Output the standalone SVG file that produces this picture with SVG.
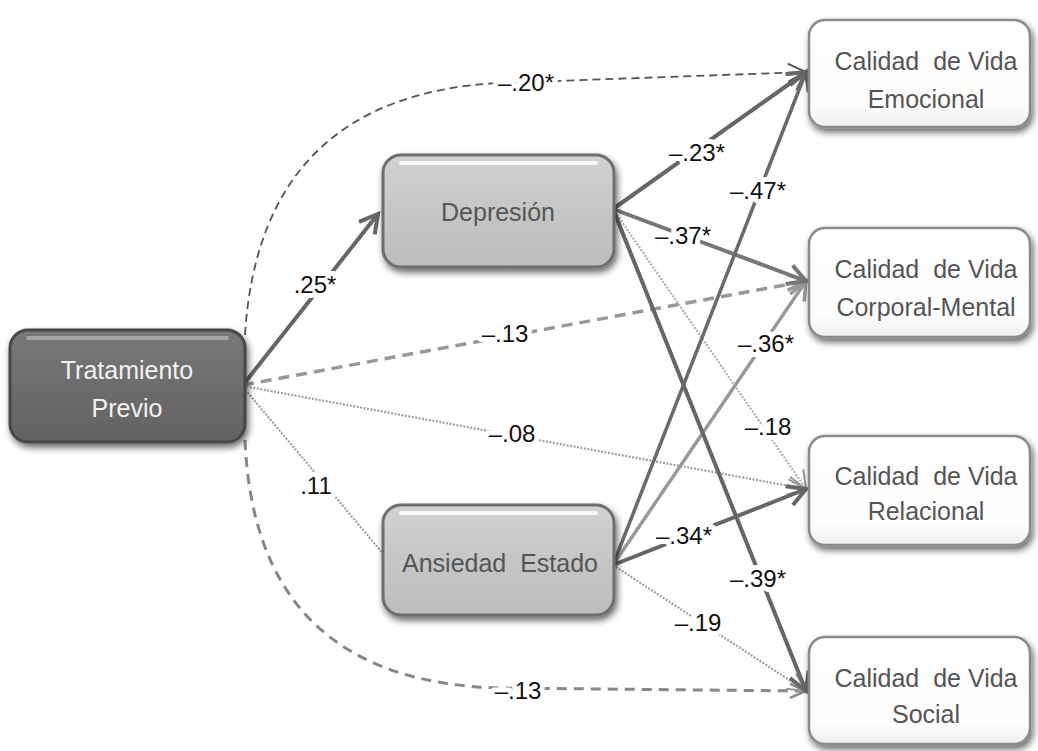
<svg xmlns="http://www.w3.org/2000/svg" width="1038" height="751" viewBox="0 0 1038 751">
<style>
.lbl{font-family:"Liberation Sans",Arial,sans-serif;font-size:24px;fill:#111;text-anchor:middle;paint-order:stroke;stroke:#fff;stroke-width:10px;stroke-linejoin:round}
.nt{font-family:"Liberation Sans",Arial,sans-serif;font-size:25px;text-anchor:middle;fill:#555}
.c{fill:none;stroke-linecap:butt}
</style>
<defs>
<filter id="sh" x="-20%" y="-20%" width="140%" height="150%">
<feGaussianBlur in="SourceAlpha" stdDeviation="3.5"/>
<feOffset dx="2" dy="4" result="b"/>
<feComponentTransfer><feFuncA type="linear" slope="0.6"/></feComponentTransfer>
<feMerge><feMergeNode/><feMergeNode in="SourceGraphic"/></feMerge>
</filter>
<linearGradient id="gDark" x1="0" y1="0" x2="0" y2="1">
<stop offset="0" stop-color="#787878"/><stop offset="0.5" stop-color="#6d6d6d"/><stop offset="1" stop-color="#626262"/>
</linearGradient>
<linearGradient id="gMid" x1="0" y1="0" x2="0" y2="1">
<stop offset="0" stop-color="#d2d2d2"/><stop offset="0.5" stop-color="#c6c6c6"/><stop offset="1" stop-color="#bdbdbd"/>
</linearGradient>
<linearGradient id="gWhite" x1="0" y1="0" x2="0" y2="1">
<stop offset="0" stop-color="#ffffff"/><stop offset="0.8" stop-color="#fdfdfd"/><stop offset="1" stop-color="#efefef"/>
</linearGradient>
<marker id="mDark" markerUnits="userSpaceOnUse" viewBox="-24 -14 28 28" markerWidth="28" markerHeight="28" refX="0" refY="0" orient="auto">
<path d="M-18,-10 L0,0 L-18,10" fill="none" stroke="#666" stroke-width="4"/>
</marker>
<marker id="mMid" markerUnits="userSpaceOnUse" viewBox="-24 -14 28 28" markerWidth="28" markerHeight="28" refX="0" refY="0" orient="auto">
<path d="M-18,-10 L0,0 L-18,10" fill="none" stroke="#777" stroke-width="4"/>
</marker>
<marker id="mGray" markerUnits="userSpaceOnUse" viewBox="-24 -14 28 28" markerWidth="28" markerHeight="28" refX="0" refY="0" orient="auto">
<path d="M-18,-10 L0,0 L-18,10" fill="none" stroke="#999" stroke-width="3.5"/>
</marker>
<marker id="mLight" markerUnits="userSpaceOnUse" viewBox="-24 -14 28 28" markerWidth="28" markerHeight="28" refX="0" refY="0" orient="auto">
<path d="M-18,-9 L0,0 L-18,9" fill="none" stroke="#999" stroke-width="2"/>
</marker>
<marker id="mDash" markerUnits="userSpaceOnUse" viewBox="-24 -14 28 28" markerWidth="28" markerHeight="28" refX="0" refY="0" orient="auto">
<path d="M-18,-9 L0,0 L-18,9" fill="none" stroke="#555" stroke-width="2"/>
</marker>
<marker id="mDash2" markerUnits="userSpaceOnUse" viewBox="-24 -14 28 28" markerWidth="28" markerHeight="28" refX="0" refY="0" orient="auto">
<path d="M-16,-7 L0,0 L-16,7" fill="none" stroke="#888" stroke-width="2.5"/>
</marker>
</defs>
<rect width="1038" height="751" fill="#fff"/>

<g id="connectors">
<path class="c" d="M245,335 Q260,95 500,83 L806,72" stroke="#555" stroke-width="1.8" stroke-dasharray="8,5" marker-end="url(#mDash)"/>
<path class="c" d="M245,440 Q255,682 500,688 L806,691" stroke="#888" stroke-width="3" stroke-dasharray="10,7" marker-end="url(#mDash2)"/>
<path class="c" d="M243,385 L806,281" stroke="#999" stroke-width="3.5" stroke-dasharray="11,7" marker-end="url(#mGray)"/>
<path class="c" d="M243,386 L806,489" stroke="#a0a0a0" stroke-width="2.2" stroke-dasharray="2,1.5" marker-end="url(#mLight)"/>
<path class="c" d="M243,387 L385,556" stroke="#a0a0a0" stroke-width="2.2" stroke-dasharray="2,1.5"/>
<path class="c" d="M243,385 L378,214" stroke="#666" stroke-width="4" marker-end="url(#mDark)"/>
<path class="c" d="M613,209 L806,489" stroke="#b0b0b0" stroke-width="2.2" stroke-dasharray="2,1.5" marker-end="url(#mLight)"/>
<path class="c" d="M613,565 L806,691" stroke="#a0a0a0" stroke-width="2.2" stroke-dasharray="2,1.5" marker-end="url(#mLight)"/>
<path class="c" d="M613,565 L806,281" stroke="#999" stroke-width="3.5" marker-end="url(#mGray)"/>
<path class="c" d="M613,209 L806,72" stroke="#666" stroke-width="4" marker-end="url(#mDark)"/>
<path class="c" d="M613,209 L806,281" stroke="#777" stroke-width="4" marker-end="url(#mMid)"/>
<path class="c" d="M613,209 L806,691" stroke="#666" stroke-width="4" marker-end="url(#mDark)"/>
<path class="c" d="M613,565 L806,72" stroke="#6a6a6a" stroke-width="3.5" marker-end="url(#mDark)"/>
<path class="c" d="M613,565 L806,489" stroke="#666" stroke-width="4" marker-end="url(#mDark)"/>
</g>

<g id="labels">
<text class="lbl" x="526" y="91">–.20*</text>
<text class="lbl" x="315" y="293">.25*</text>
<text class="lbl" x="505" y="342">–.13</text>
<text class="lbl" x="512" y="442">–.08</text>
<text class="lbl" x="316" y="494">.11</text>
<text class="lbl" x="518" y="699">–.13</text>
<text class="lbl" x="697" y="161">–.23*</text>
<text class="lbl" x="758" y="199">–.47*</text>
<text class="lbl" x="683" y="244">–.37*</text>
<text class="lbl" x="766" y="352">–.36*</text>
<text class="lbl" x="768" y="435">–.18</text>
<text class="lbl" x="684" y="544">–.34*</text>
<text class="lbl" x="758" y="587">–.39*</text>
<text class="lbl" x="698" y="631">–.19</text>
</g>

<g id="node-tratamiento">
<rect x="10" y="330" width="235" height="112" rx="18" fill="url(#gDark)" stroke="#474747" stroke-width="3" filter="url(#sh)"/>
<path d="M28,338 L227,338" stroke="#fff" stroke-opacity="0.35" stroke-width="4" stroke-linecap="round"/>
<text class="nt" x="127" y="379" style="fill:#f2f2f2">Tratamiento</text>
<text class="nt" x="127" y="417" style="fill:#f2f2f2">Previo</text>
</g>

<g id="node-depresion">
<rect x="383" y="155" width="231" height="112" rx="18" fill="url(#gMid)" stroke="#6e6e6e" stroke-width="3" filter="url(#sh)"/>
<path d="M401,163 L596,163" stroke="#fff" stroke-opacity="0.85" stroke-width="4" stroke-linecap="round"/>
<text class="nt" x="498" y="221">Depresión</text>
</g>

<g id="node-ansiedad">
<rect x="383" y="505" width="231" height="110" rx="18" fill="url(#gMid)" stroke="#6e6e6e" stroke-width="3" filter="url(#sh)"/>
<path d="M401,513 L596,513" stroke="#fff" stroke-opacity="0.85" stroke-width="4" stroke-linecap="round"/>
<text class="nt" x="500" y="572" xml:space="preserve">Ansiedad  Estado</text>
</g>

<g id="node-emocional">
<rect x="809" y="20" width="221" height="107" rx="16" fill="url(#gWhite)" stroke="#8a8a8a" stroke-width="2.5" filter="url(#sh)"/>
<text class="nt" x="926" y="70" xml:space="preserve">Calidad  de Vida</text>
<text class="nt" x="926" y="108">Emocional</text>
</g>

<g id="node-corporal">
<rect x="809" y="228" width="221" height="109" rx="16" fill="url(#gWhite)" stroke="#8a8a8a" stroke-width="2.5" filter="url(#sh)"/>
<text class="nt" x="926" y="278" xml:space="preserve">Calidad  de Vida</text>
<text class="nt" x="926" y="316">Corporal-Mental</text>
</g>

<g id="node-relacional">
<rect x="809" y="436" width="221" height="109" rx="16" fill="url(#gWhite)" stroke="#8a8a8a" stroke-width="2.5" filter="url(#sh)"/>
<text class="nt" x="926" y="485" xml:space="preserve">Calidad  de Vida</text>
<text class="nt" x="926" y="520">Relacional</text>
</g>

<g id="node-social">
<rect x="809" y="637" width="221" height="107" rx="16" fill="url(#gWhite)" stroke="#8a8a8a" stroke-width="2.5" filter="url(#sh)"/>
<text class="nt" x="926" y="687" xml:space="preserve">Calidad  de Vida</text>
<text class="nt" x="926" y="723">Social</text>
</g>
</svg>
